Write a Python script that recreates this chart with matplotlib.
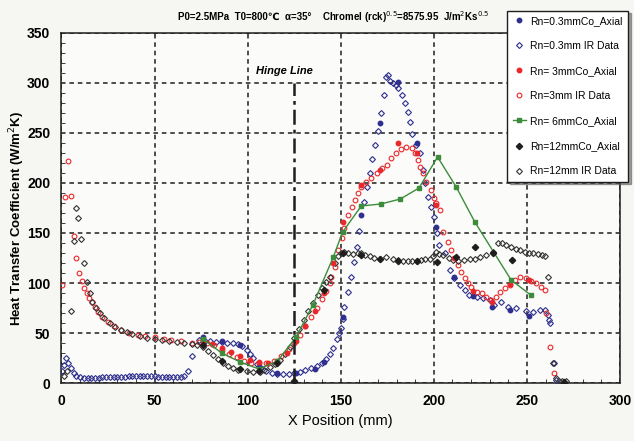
import matplotlib
matplotlib.use("Agg")
import matplotlib.pyplot as plt
from matplotlib.ticker import MultipleLocator

plt.rcParams['font.family'] = ['Liberation Sans', 'DejaVu Sans']

# -----------------------------
# Data
# -----------------------------

# Rn=0.3mm IR data
ir03_x = [0.5, 1.5, 2.5, 3.5, 5, 6.5, 8, 10, 12, 14, 16, 18, 20, 22, 24, 26, 28, 30,
          32, 34, 36, 38, 40, 42, 44, 46, 48, 50, 52, 54, 56, 58, 60, 62, 64, 66, 68, 70,
          74, 77, 80, 83, 86, 89, 92, 95, 97, 99.5, 101, 103, 105, 107, 110, 113, 116,
          119, 122, 125, 128, 131, 134, 137, 140, 142, 144, 146, 148, 149, 150, 151, 152,
          154, 155.5, 157, 158.5, 160, 162.5, 164, 165.5, 167, 168.5, 170, 171.5, 173,
          174.5, 175.5, 176.5, 178, 179.5, 181, 183, 184.5, 186, 187, 188.5, 190.5, 192.5,
          194, 195.5, 197, 198.5, 200, 201.5, 203, 206, 208.5, 211, 214, 216.5, 219, 223,
          226.5, 230, 232.5, 236, 240, 244, 249.5, 253, 257, 259.5, 261.3, 262, 262.6,
          264.4, 265.4]
ir03_y = [12, 18, 25, 20, 15, 10, 7, 6, 5.5, 5.5, 5.5, 5.5, 5.5, 6, 6, 6, 6, 6,
          6.5, 6.5, 7, 7, 7, 7, 7.5, 7, 7, 7, 6.5, 6.5, 6.5, 6.5, 6, 6, 6, 7, 12, 27,
          43, 42, 42, 41, 41, 40, 40, 39, 37, 33, 29, 25, 19, 15, 12, 10, 9,
          9, 9, 10, 11, 13, 15, 17, 20, 24, 29, 35, 44, 50, 55, 64, 76,
          91, 106, 121, 136, 152, 181, 196, 210, 224, 238, 252, 270, 288,
          306, 308, 302, 300, 298, 295, 288, 280, 271, 261, 249, 238, 230,
          213, 200, 186, 176, 166, 150, 138, 130, 113, 105, 98, 93, 88, 86,
          85, 83, 78, 81, 76, 75, 72, 71, 73, 73, 68, 63, 60,
          20, 3]

# Rn=0.3mmCo_Axial
co03_x = [76, 86, 96, 106, 116, 126, 136, 141, 151, 161, 171, 181, 191, 201, 211, 221,
          231, 241, 251]
co03_y = [46, 42, 38, 16, 10, 10, 14, 21, 66, 168, 260, 301, 240, 156, 106, 87,
          76, 73, 67]

# Rn=3mmCo_Axial
co3_x = [76, 81, 86, 91, 96, 101, 106, 111, 116, 121, 126, 131, 136, 141, 146, 151,
         161, 171, 181, 191, 201, 211, 221, 231, 241, 251]
co3_y = [41, 39, 35, 31, 27, 23, 21, 20, 22, 30, 42, 57, 72, 90, 120, 161,
         198, 213, 240, 230, 178, 125, 92, 81, 99, 103]

# Rn=3mm IR data
ir3_x = [0.4, 1.9, 3.7, 4.9, 6.7, 7.8, 9.4, 10.8, 12.2, 13.7, 15, 16.2, 18, 19.8, 22,
         25, 28, 32, 36, 41, 45, 50, 55, 59, 64, 70, 74, 78, 82, 86, 90, 94, 98, 102,
         106, 110, 114, 118, 122, 125, 128, 131, 134, 137, 140, 142, 144, 145, 146.8,
         148.6, 150.4, 152, 154, 155.8, 157.5, 159.3, 161.1, 163.8, 166.5, 169.2, 171.9,
         174.6, 177.2, 179.9, 182.6, 185.3, 188, 189.7, 191.5, 192.4, 193.9, 196, 198.7,
         200, 201.4, 203.2, 205, 207.6, 209.4, 211.2, 213, 214.8, 216.6, 218.4, 220.2,
         222.9, 225.6, 228.2, 230.9, 233.6, 235.4, 238.1, 240.7, 243.4, 246.1, 249.7,
         252.4, 255.1, 257.8, 259.5, 260, 262.6, 264.4]
ir3_y = [98, 186, 222, 187, 147, 125, 110, 102, 95, 90, 85, 81, 76, 71, 66,
         61, 57, 53, 50, 48, 47, 46, 44, 43, 42, 40, 41, 40, 38, 33, 29, 26, 22, 20,
         20, 20, 22, 27, 34, 40, 48, 57, 66, 75, 84, 92, 100, 106, 116,
         133, 145, 155, 168, 176, 183, 190, 196, 201, 205, 210, 215,
         218, 225, 230, 234, 236, 235, 230, 223, 216, 210, 201, 193,
         185, 180, 173, 151, 141, 133, 125, 118, 111, 105, 100, 96,
         91, 90, 86, 83, 86, 91, 95, 98, 103, 106, 105,
         102, 100, 96, 93, 70, 36, 10]

# Rn=6mmCo_Axial
co6_x = [76, 86, 96, 106, 116, 126, 135, 146, 151, 161, 171.5, 182, 192, 202, 212, 222,
         241.5, 252]
co6_y = [44, 30, 21, 14, 22, 46, 78, 126, 151, 177, 179, 184, 195, 226, 196, 161,
         103, 88]

# Rn=12mmCo_Axial
co12_x = [76, 86, 96, 106, 116, 125, 141, 151, 161, 171, 181, 191, 201.5, 212, 222, 232,
          242, 270]
co12_y = [38, 22, 14, 12, 20, 2, 93, 130, 128, 124, 122, 122, 121, 126, 136, 130,
          123, 1]

# Rn=12mm IR data
ir12_x = [1.5, 3, 5.1, 6.7, 7.8, 9, 10.5, 12.2, 13.7, 15.1, 16.6, 18.5, 20.5, 23, 26, 29,
          32, 35, 38, 42, 46, 50, 54, 58, 62, 66, 70, 73, 75.8, 78.5, 81.5, 84, 86.8,
          89.5, 92.2, 95, 99.4, 103, 106.5, 109, 112, 114.5, 117.3, 120, 122.7, 125,
          127.5, 130, 132.5, 135, 137.5, 140, 142, 144, 146.8, 148.6, 150, 152, 154,
          156.6, 159, 161.1, 163, 165.6, 168, 171, 174.5, 178, 181, 183.5, 186, 188.5,
          190.7, 193, 195.5, 197.8, 199.5, 201, 203, 205, 208, 210.3, 213, 216, 219.3,
          222, 225, 228.2, 231.8, 234.5, 236.5, 239, 241.5, 244, 246.1, 249, 251, 253.3,
          256, 258, 259.5, 261.3, 264, 265.5, 267, 269, 271]
ir12_y = [7, 12, 72, 142, 175, 165, 144, 120, 101, 90, 81, 75, 70, 65, 60, 56,
          53, 51, 49, 47, 45, 44, 43, 42, 41, 40, 39, 38, 36, 32, 28, 24, 20,
          17, 15, 13, 12, 11, 11, 13, 16, 19, 23, 29, 36, 45,
          54, 63, 72, 80, 88, 95, 101, 106, 120, 127, 130, 131, 130,
          129, 130, 130, 128, 127, 125, 124, 126, 124, 123, 122, 122, 122,
          122, 123, 124, 124, 127, 131, 129, 128, 125, 123, 122, 123, 124,
          124, 126, 128, 131, 140, 140, 138, 136, 134, 133, 131, 130, 130,
          129, 128, 127, 106, 20, 5, 2, 2, 2]

# -----------------------------
# Chart
# -----------------------------

navy = "#2e2f8f"
red = "#e8282a"
green = "#3c8c3c"
black = "#1e1e1e"

fig = plt.figure(figsize=(6.34, 4.41), dpi=100, facecolor="#f6f6f3")
ax = fig.add_axes([0.097, 0.1315, 0.881, 0.7937])
ax.set_facecolor("#fbfbf9")

ax.plot(co03_x, co03_y, "o", color=navy, ms=3.2, label="Rn=0.3mmCo_Axial", zorder=4)
ax.plot(ir03_x, ir03_y, "D", mfc="none", mec=navy, mew=0.8, ms=3.0,
        label="Rn=0.3mm IR Data", zorder=3)
ax.plot(co3_x, co3_y, "o", color=red, ms=3.2, label="Rn= 3mmCo_Axial", zorder=4)
ax.plot(ir3_x, ir3_y, "o", mfc="none", mec=red, mew=0.8, ms=3.4,
        label="Rn=3mm IR Data", zorder=3)
ax.plot(co6_x, co6_y, "-s", color=green, lw=1.0, ms=3.2, label="Rn= 6mmCo_Axial", zorder=4)
ax.plot(co12_x, co12_y, "D", color=black, ms=3.2, label="Rn=12mmCo_Axial", zorder=4)
ax.plot(ir12_x, ir12_y, "D", mfc="none", mec="#333333", mew=0.8, ms=3.0,
        label="Rn=12mm IR Data", zorder=3)

# hinge line
ax.plot([125, 125], [0, 300], color=black, lw=1.8, ls=(0, (6, 2, 1.5, 2)), zorder=5)
ax.text(120, 312, "Hinge Line", ha="center", va="center", fontsize=8,
        fontweight="bold", style="italic")

ax.set_xlim(0, 300)
ax.set_ylim(0, 350)
ax.xaxis.set_major_locator(MultipleLocator(50))
ax.yaxis.set_major_locator(MultipleLocator(50))
ax.xaxis.set_minor_locator(MultipleLocator(10))
ax.yaxis.set_minor_locator(MultipleLocator(10))
ax.tick_params(which="both", direction="in", length=3, color=black)
ax.tick_params(which="major", length=0, labelsize=10, pad=8)
for lab in ax.get_xticklabels() + ax.get_yticklabels():
    lab.set_fontweight("bold")

ax.grid(True, which="major", color=black, lw=1.1, ls=(0, (3, 2.5)))
for s in ax.spines.values():
    s.set_linewidth(1.1)
    s.set_color(black)

ax.set_xlabel("X Position (mm)", fontsize=10.5, labelpad=4)
ax.set_ylabel("Heat Transfer Coefficient (W/m$^2$K)", fontsize=9.5,
              fontweight="bold")
ax.yaxis.set_label_coords(-0.062, 0.47)

# title in two pieces: plain text part (keeps font fallback for ℃) and mathtext part
fig.text(0.28, 0.961, "P0=2.5MPa  T0=800℃  α=35°",
         ha="left", va="center", fontsize=7, fontweight="bold")
fig.text(0.508, 0.961, "Chromel (rck)$^{0.5}$=8575.95  J/m$^2$Ks$^{0.5}$",
         ha="left", va="center", fontsize=7, fontweight="bold")

leg = fig.legend(loc="upper left", bbox_to_anchor=(0.792, 0.988), fontsize=7.5,
                 labelspacing=1.45, handlelength=1.3, handletextpad=0.4,
                 borderpad=0.5, fancybox=False, shadow=True, framealpha=1)
leg.get_frame().set_edgecolor(black)
leg.get_frame().set_linewidth(1.0)

plt.savefig("out.png", dpi=100, facecolor=fig.get_facecolor())
